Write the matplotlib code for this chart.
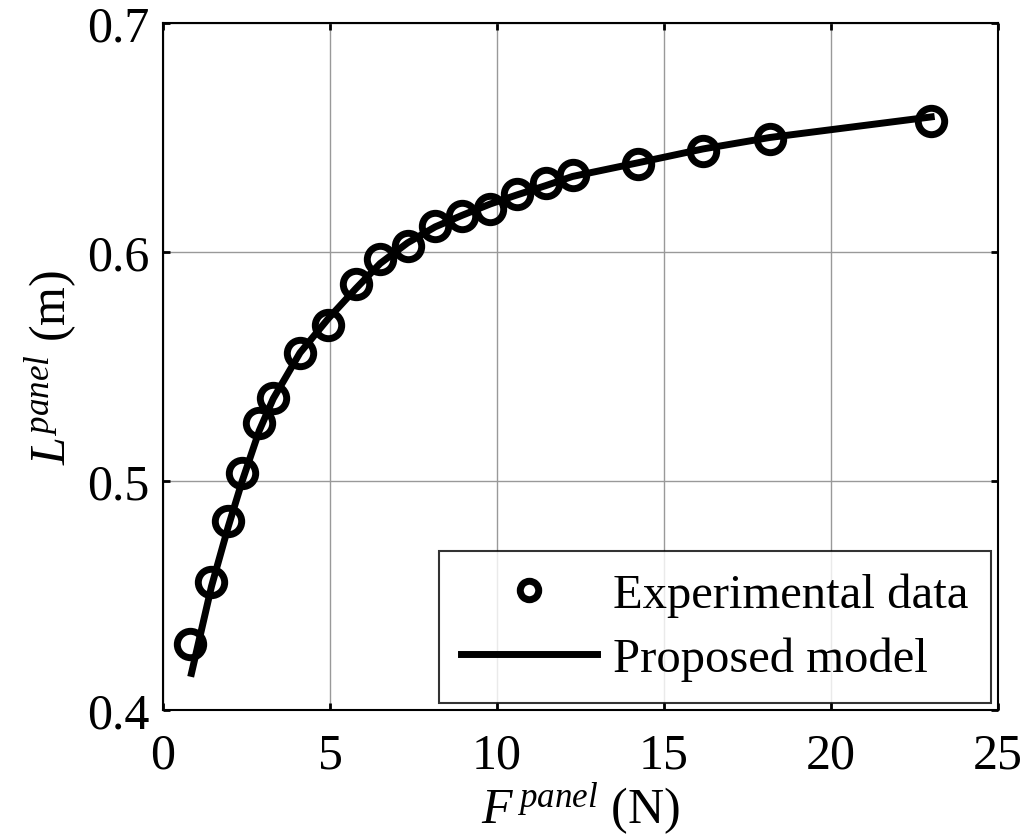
import matplotlib
matplotlib.use("Agg")
import matplotlib.pyplot as plt

# Data eksperimen
f_exp = [0.82, 1.45, 1.95, 2.37, 2.88, 3.30, 4.10, 4.95, 5.77, 6.50, 7.32,
         8.15, 8.95, 9.80, 10.61, 11.46, 12.26, 14.23, 16.16, 18.16, 23.0]
l_exp = [0.4287, 0.4559, 0.4825, 0.5034, 0.5255, 0.5364, 0.5561, 0.5680,
         0.5859, 0.5971, 0.6026, 0.6114, 0.6157, 0.6190, 0.6252, 0.6303,
         0.6335, 0.6383, 0.6441, 0.6492, 0.6572]

# Model
f_model = [0.85, 1.45, 1.95, 2.37, 2.88, 3.30, 4.10, 4.95, 5.77, 6.50, 7.32,
           8.15, 8.95, 9.80, 10.61, 11.46, 12.26, 14.23, 16.16, 18.16, 23.0]
l_model = [0.416, 0.454, 0.480, 0.500, 0.522, 0.536, 0.556, 0.571, 0.584,
           0.595, 0.604, 0.611, 0.616, 0.621, 0.625, 0.629, 0.633, 0.639,
           0.645, 0.650, 0.659]

x_ticks = [0, 5, 10, 15, 20, 25]
y_ticks = [0.4, 0.5, 0.6, 0.7]

plt.rcParams["font.family"] = ["Liberation Serif", "DejaVu Serif"]
plt.rcParams["mathtext.fontset"] = "custom"
plt.rcParams["mathtext.rm"] = "Liberation Serif"
plt.rcParams["mathtext.it"] = "Liberation Serif:italic"

fig = plt.figure(figsize=(10.36, 8.37), dpi=100)
ax = fig.add_axes([0.1574, 0.1505, 0.8059, 0.8208])

ax.plot(f_exp, l_exp, "o", color="black", markerfacecolor="none",
        markersize=19, markeredgewidth=5, label="Experimental data")
ax.plot(f_model, l_model, "-", color="black", linewidth=5,
        label="Proposed model")

ax.set_xlim(0, 25)
ax.set_ylim(0.4, 0.7)
ax.set_xticks(x_ticks)
ax.set_yticks(y_ticks)
ax.set_xticklabels([str(t) for t in x_ticks])
ax.set_yticklabels([str(t) for t in y_ticks])
ax.grid(True, color="#999999", linewidth=1)

ax.tick_params(direction="in", length=5, width=2, labelsize=36,
               top=True, right=True)
ax.tick_params(axis="x", pad=16)
ax.tick_params(axis="y", pad=10)
for s in ax.spines.values():
    s.set_linewidth(1.5)

ax.set_xlabel(r"$\mathit{F}^{\,\mathit{panel}}$ (N)", fontsize=36, labelpad=0)
ax.set_ylabel(r"$\mathit{L}^{\mathit{panel}}$ (m)", fontsize=36, labelpad=6)

leg = ax.legend(loc="lower right", fontsize=35, frameon=True, fancybox=False,
                edgecolor="black", markerscale=0.7, handlelength=2.8,
                borderpad=0.45, labelspacing=0.4, handletextpad=0.33,
                borderaxespad=0.15)
leg.get_frame().set_linewidth(1.5)

fig.savefig("out.png", dpi=100)
